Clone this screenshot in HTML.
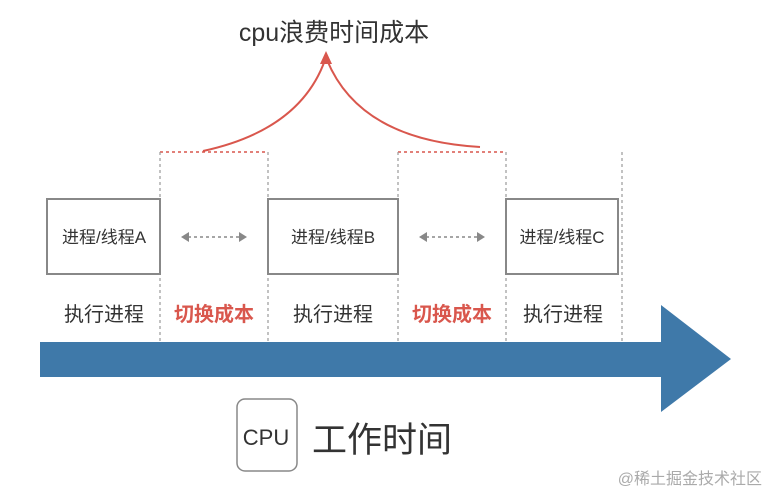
<!DOCTYPE html>
<html><head><meta charset="utf-8"><style>
html,body{margin:0;padding:0;background:#fff}
body{width:765px;height:488px;overflow:hidden}
text{font-family:"Liberation Sans","Noto Sans CJK SC",sans-serif}
</style></head><body>
<svg width="765" height="488" viewBox="0 0 765 488" xmlns="http://www.w3.org/2000/svg">
<text x="334" y="41" font-size="25" fill="#333" text-anchor="middle">cpu浪费时间成本</text>
<path d="M203 151 Q300 130 325 60" fill="none" stroke="#d9574d" stroke-width="2"/>
<path d="M480 147 Q360 140 327 60" fill="none" stroke="#d9574d" stroke-width="2"/>
<polygon points="320,64 326,51 332,64" fill="#d9574d"/>
<g stroke="#d9574d" stroke-width="1.5" stroke-dasharray="3,3" fill="none">
<line x1="160" y1="152" x2="268" y2="152"/>
<line x1="398" y1="152" x2="506" y2="152"/>
</g>
<g stroke="#999" stroke-width="1.2" stroke-dasharray="3,3">
<line x1="160" y1="152" x2="160" y2="342"/>
<line x1="268" y1="152" x2="268" y2="342"/>
<line x1="398" y1="152" x2="398" y2="342"/>
<line x1="506" y1="152" x2="506" y2="342"/>
<line x1="622" y1="152" x2="622" y2="342"/>
</g>
<g fill="#fff" stroke="#888" stroke-width="2">
<rect x="47" y="199" width="113" height="75"/>
<rect x="268" y="199" width="130" height="75"/>
<rect x="506" y="199" width="112" height="75"/>
</g>
<g font-size="17" fill="#333" text-anchor="middle">
<text x="104" y="243">进程/线程A</text>
<text x="333" y="243">进程/线程B</text>
<text x="562" y="243">进程/线程C</text>
</g>
<g stroke="#888" stroke-width="1.5" stroke-dasharray="3,3">
<line x1="188" y1="237" x2="240" y2="237"/>
<line x1="426" y1="237" x2="478" y2="237"/>
</g>
<g fill="#888">
<polygon points="181,237 189,232 189,242"/><polygon points="247,237 239,232 239,242"/>
<polygon points="419,237 427,232 427,242"/><polygon points="485,237 477,232 477,242"/>
</g>
<g font-size="20" text-anchor="middle">
<text x="104" y="321" fill="#333">执行进程</text>
<text x="214" y="321" fill="#d9574d" font-weight="bold">切换成本</text>
<text x="333" y="321" fill="#333">执行进程</text>
<text x="452" y="321" fill="#d9574d" font-weight="bold">切换成本</text>
<text x="563" y="321" fill="#333">执行进程</text>
</g>
<polygon points="40,342 661,342 661,305 731,359 661,412 661,377 40,377" fill="#3f79a9"/>
<rect x="237" y="399" width="60" height="72" rx="8" fill="#fff" stroke="#888" stroke-width="1.5"/>
<text x="266" y="445" font-size="22" fill="#333" text-anchor="middle">CPU</text>
<text x="312" y="452" font-size="35" fill="#333">工作时间</text>
<text x="762" y="484" font-size="16" fill="#aaa" text-anchor="end">@稀土掘金技术社区</text>
</svg>
</body></html>
